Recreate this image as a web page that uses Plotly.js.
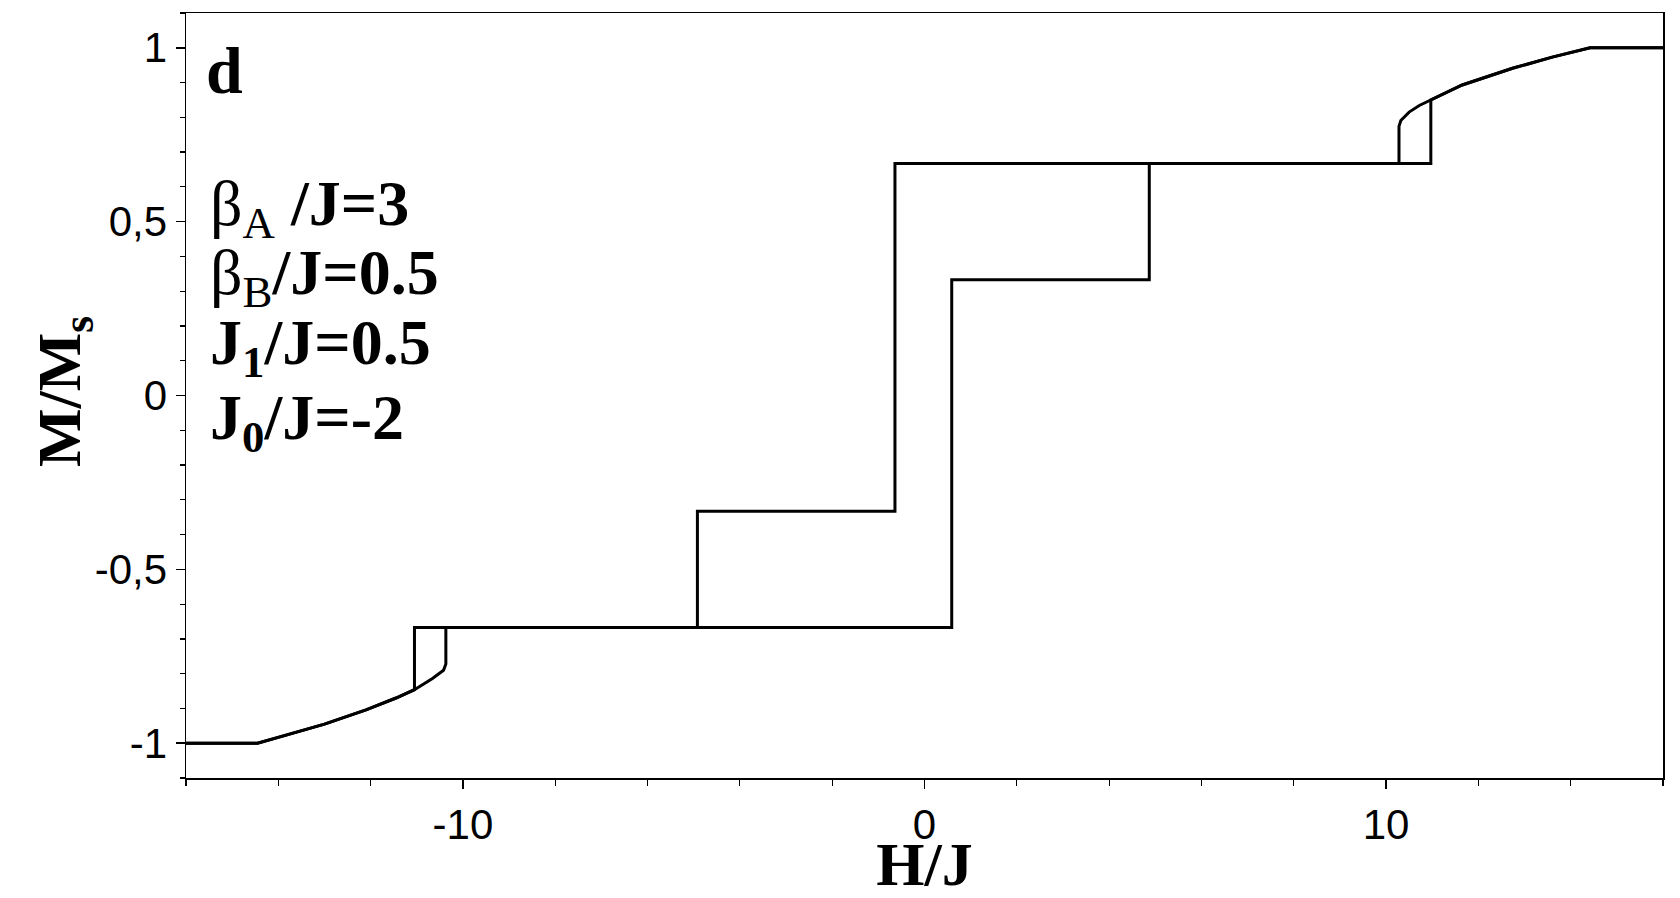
<!DOCTYPE html>
<html>
<head>
<meta charset="utf-8">
<script src="https://cdn.plot.ly/plotly-3.0.1.min.js"></script>
<style>
  html, body { margin: 0; padding: 0; background: #fff; }
  #plot { width: 1680px; height: 898px; }
</style>
</head>
<body>
<div id="plot"></div>
<script>
// ============ DATA ============
// increasing field branch
const H_UP = [-16, -14.45, -14.0, -13.0, -12.1, -11.45, -11.05, -10.66, -10.42, -10.37, -10.37,
              0.59, 0.59, 4.87, 4.87, 10.97, 10.97, 11.65, 12.74, 13.6, 14.42, 16];
const M_UP = [-1, -1, -0.983, -0.945, -0.904, -0.870, -0.846, -0.814, -0.79, -0.772, -0.667,
              -0.667, 0.333, 0.333, 0.667, 0.667, 0.85, 0.893, 0.941, 0.973, 1, 1];
// decreasing field branch
const H_DOWN = [16, 14.42, 13.6, 12.74, 11.65, 10.97, 10.72, 10.5, 10.32, 10.28, 10.28,
                -0.64, -0.64, -4.92, -4.92, -11.05, -11.05, -11.45, -12.1, -13.0, -14.0, -14.45, -16];
const M_DOWN = [1, 1, 0.973, 0.941, 0.893, 0.85, 0.834, 0.815, 0.791, 0.774, 0.667,
                0.667, -0.333, -0.333, -0.667, -0.667, -0.846, -0.870, -0.904, -0.945, -0.983, -1, -1];

const X_TICKS = [-10, 0, 10];
const X_TICKTEXT = ['-10', '0', '10'];
const Y_TICKS = [-1, -0.5, 0, 0.5, 1];
const Y_TICKTEXT = ['-1', '-0,5', '0', '0,5', '1'];

const PANEL_LABEL = 'd';
const X_TITLE = 'H/J';
const Y_TITLE = 'M/M<sub>s</sub>';
const PARAM_LINES = [
  'β<sub>A</sub><b> /J=3</b>',
  'β<sub>B</sub><b>/J=0.5</b>',
  '<b>J<sub>1</sub>/J=0.5</b>',
  '<b>J<sub>0</sub>/J=-2</b>'
];

// ============ STYLE ============
const SERIF = 'Liberation Serif, Times New Roman, serif';
const SANS = 'Liberation Sans, Arial, sans-serif';
const LINE = { color: '#000', width: 3 };

const traces = [
  { x: H_UP, y: M_UP, type: 'scatter', mode: 'lines', line: LINE, hoverinfo: 'skip' },
  { x: H_DOWN, y: M_DOWN, type: 'scatter', mode: 'lines', line: LINE, hoverinfo: 'skip' }
];

const axisBase = {
  showline: true, linecolor: '#000', linewidth: 1.5, mirror: true,
  showgrid: false, zeroline: false,
  ticks: 'outside', ticklen: 9, tickwidth: 1.5, tickcolor: '#000',
  tickfont: { family: SANS, size: 42, color: '#000' },
  tickmode: 'array'
};

const paramY = [0.745, 0.655, 0.563, 0.465];
const annotations = [
  { text: '<b>' + PANEL_LABEL + '</b>', xref: 'paper', yref: 'paper', x: 0.012, y: 0.925,
    xanchor: 'left', yanchor: 'middle', showarrow: false,
    font: { family: SERIF, size: 66, color: '#000' } },
  // y-axis title as a rotated annotation so it can sit closer to the tick labels
  { text: '<b>' + Y_TITLE + '</b>', xref: 'paper', yref: 'paper', x: -0.0826, y: 0.506,
    xanchor: 'center', yanchor: 'middle', textangle: -90, showarrow: false,
    font: { family: SERIF, size: 62, color: '#000' } }
].concat(PARAM_LINES.map((t, i) => ({
  text: t, xref: 'paper', yref: 'paper', x: 0.015, y: paramY[i],
  xanchor: 'left', yanchor: 'middle', showarrow: false,
  font: { family: SERIF, size: 64, color: '#000' }
})));

const layout = {
  width: 1680, height: 898,
  margin: { l: 186, r: 17, t: 13, b: 120 },
  paper_bgcolor: '#fff', plot_bgcolor: '#fff',
  showlegend: false,
  xaxis: Object.assign({}, axisBase, {
    range: [-16, 16],
    tickvals: X_TICKS, ticktext: X_TICKTEXT,
    minor: { tickmode: 'linear', tick0: 0, dtick: 2, ticks: 'outside', ticklen: 6, tickwidth: 1.2, tickcolor: '#000' },
    title: { text: '<b>' + X_TITLE + '</b>', standoff: 14, font: { family: SERIF, size: 62, color: '#000' } }
  }),
  yaxis: Object.assign({}, axisBase, {
    range: [-1.1, 1.1],
    tickvals: Y_TICKS, ticktext: Y_TICKTEXT,
    minor: { tickmode: 'linear', tick0: 0, dtick: 0.1, ticks: 'outside', ticklen: 5, tickwidth: 1.2, tickcolor: '#000' }
  }),
  annotations: annotations
};

Plotly.newPlot('plot', traces, layout, { displayModeBar: false, staticPlot: true });
</script>
</body>
</html>
